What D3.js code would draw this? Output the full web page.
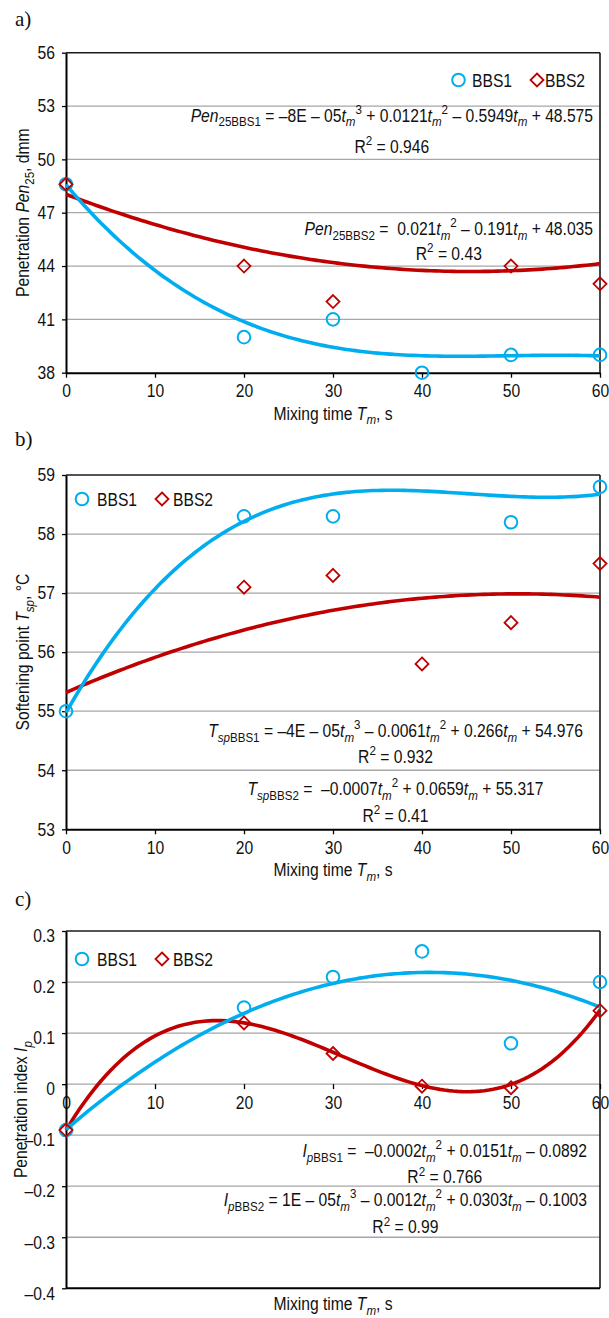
<!DOCTYPE html>
<html><head><meta charset="utf-8">
<script src="https://cdn.jsdelivr.net/npm/d3@7"></script>
<style>
html,body{margin:0;padding:0;background:#fff;}
svg{display:block;font-family:'Liberation Sans',Arial,sans-serif;}
text{white-space:pre;}
</style></head>
<body><svg id="chart" width="609" height="1318"></svg>
<script>
// ---------------- DATA ----------------
const mixTime = [0, 20, 30, 40, 50, 60];
const xTicks = [0, 10, 20, 30, 40, 50, 60];
const seriesNames = ["BBS1", "BBS2"];

// a) Penetration Pen25, dmm
const penBBS1 = [48.6, 40.0, 41.0, 38.0, 39.0, 39.0];
const penBBS2 = [48.6, 44.0, 42.0, null, 44.0, 43.0];
const penTicks = [38, 41, 44, 47, 50, 53, 56];
// trendline coefficients [c0, c1, c2, c3]
const penTrendBBS1 = [48.575, -0.5949, 0.0121, -8.1e-5];
const penTrendBBS2 = [48.035, -0.191, 0.0021, 0];

// b) Softening point Tsp, °C
const spBBS1 = [55.0, 58.3, 58.3, null, 58.2, 58.8];
const spBBS2 = [null, 57.1, 57.3, 55.8, 56.5, 57.5];
const spTicks = [53, 54, 55, 56, 57, 58, 59];
const spTrendBBS1 = [54.976, 0.266, -0.0061, 4.49e-5];
const spTrendBBS2 = [55.317, 0.0659, -0.00065, 0];

// c) Penetration index Ip
const ipBBS1 = [-0.09, 0.15, 0.21, 0.26, 0.08, 0.20];
const ipBBS2 = [-0.09, 0.12, 0.06, -0.004, -0.007, 0.144];
const ipTicks = [-0.4, -0.3, -0.2, -0.1, 0, 0.1, 0.2, 0.3];
const ipTrendBBS1 = [-0.0892, 0.0151, -0.000185, 0];
const ipTrendBBS2 = [-0.09, 0.02889, -0.001171, 1.258e-5];

// equation labels (as printed)
const eqPen1 = [["Pen","i"],["25BBS1","sub"],[" = –8E – 05"],["t","i"],["m","isub"],["3","sup"],[" + 0.0121"],["t","i"],["m","isub"],["2","sup"],[" – 0.5949"],["t","i"],["m","isub"],[" + 48.575"]];
const r2Pen1 = "0.946";
const eqPen2 = [["Pen","i"],["25BBS2","sub"],[" =  0.021"],["t","i"],["m","isub"],["2","sup"],[" – 0.191"],["t","i"],["m","isub"],[" + 48.035"]];
const r2Pen2 = "0.43";
const eqSp1 = [["T","i"],["sp","isub"],["BBS1","sub"],[" = –4E – 05"],["t","i"],["m","isub"],["3","sup"],[" – 0.0061"],["t","i"],["m","isub"],["2","sup"],[" + 0.266"],["t","i"],["m","isub"],[" + 54.976"]];
const r2Sp1 = "0.932";
const eqSp2 = [["T","i"],["sp","isub"],["BBS2","sub"],[" =  –0.0007"],["t","i"],["m","isub"],["2","sup"],[" + 0.0659"],["t","i"],["m","isub"],[" + 55.317"]];
const r2Sp2 = "0.41";
const eqIp1 = [["I","i"],["p","isub"],["BBS1","sub"],[" =  –0.0002"],["t","i"],["m","isub"],["2","sup"],[" + 0.0151"],["t","i"],["m","isub"],[" – 0.0892"]];
const r2Ip1 = "0.766";
const eqIp2 = [["I","i"],["p","isub"],["BBS2","sub"],[" = 1E – 05"],["t","i"],["m","isub"],["3","sup"],[" – 0.0012"],["t","i"],["m","isub"],["2","sup"],[" + 0.0303"],["t","i"],["m","isub"],[" – 0.1003"]];
const r2Ip2 = "0.99";

// ---------------- STYLE ----------------
const BLUE = "#00AEEF", RED = "#C00000", GRID = "#A6A6A6";
const FS = 18, SX = 0.87;
const svg = d3.select("#chart");
const x = d3.scaleLinear().domain([0, 60]).range([66, 600]);

function rich(parent, px, py, parts, opt = {}) {
  const size = opt.size || FS;
  const tr = `translate(${px},${py})` + (opt.rotate ? ` rotate(${opt.rotate})` : "") + ` scale(${SX},1)`;
  const t = parent.append("text").attr("transform", tr)
    .attr("text-anchor", opt.anchor || "start").style("font-size", size + "px").attr("fill", "#111");
  let shift = 0;
  parts.forEach(p => {
    const s = p[0], st = p[1] || "";
    const ts = t.append("tspan").text(s);
    const isSub = st.indexOf("sub") >= 0, isSup = st === "sup";
    const target = isSub ? 0.27 * size : (isSup ? -0.42 * size : 0);
    if (target !== shift) { ts.attr("dy", target - shift); shift = target; }
    if (isSub || isSup) ts.style("font-size", (size * 0.74) + "px");
    if (st === "i" || st === "isub") ts.style("font-style", "italic");
  });
  return t;
}
function width(t) { return t.node().getComputedTextLength() * SX; }

function poly(c, t) { return c[0] + c[1] * t + c[2] * t * t + c[3] * t * t * t; }

function diamond(cx, cy, r) {
  return `M${cx},${cy - r}L${cx + r},${cy}L${cx},${cy + r}L${cx - r},${cy}Z`;
}

function panel(cfg) {
  const g = svg.append("g");
  const y = d3.scaleLinear().domain(cfg.domain).range(cfg.range);
  const [x0, x1] = x.range();
  const yTop = y(cfg.domain[1]), yBot = y(cfg.domain[0]);

  // gridlines
  g.append("g").selectAll("line").data(cfg.ticks.filter(d => d !== cfg.domain[0] && d !== cfg.domain[1]))
    .join("line").attr("x1", x0).attr("x2", x1).attr("y1", d => y(d)).attr("y2", d => y(d))
    .attr("stroke", GRID).attr("stroke-width", 1.3);

  // frame top & right
  g.append("line").attr("x1", x0).attr("x2", x1).attr("y1", yTop).attr("y2", yTop).attr("stroke", "#1a1a1a").attr("stroke-width", 1.6);
  g.append("line").attr("x1", x1).attr("x2", x1).attr("y1", yTop).attr("y2", yBot).attr("stroke", "#1a1a1a").attr("stroke-width", 1.6);

  // bottom line (panel c: bottom frame separate from x axis)
  if (cfg.xAxisAt !== cfg.domain[0]) {
    g.append("line").attr("x1", x0).attr("x2", x1).attr("y1", yBot).attr("y2", yBot).attr("stroke", "#000").attr("stroke-width", 2);
  }

  // x axis
  const xa = g.append("g").attr("transform", `translate(0,${y(cfg.xAxisAt)})`)
    .call(d3.axisBottom(x).tickValues(xTicks).tickSize(5).tickSizeOuter(0).tickPadding(7).tickFormat(d3.format("d")));
  xa.select(".domain").attr("stroke", cfg.xAxisAt !== cfg.domain[0] ? "none" : "#000").attr("stroke-width", 2);
  xa.selectAll(".tick line").attr("stroke", "#000").attr("stroke-width", 1.3);
  xa.selectAll(".tick text").attr("transform", `scale(${SX},1)`).style("font-size", FS + "px")
    .style("font-family", "'Liberation Sans',Arial,sans-serif").attr("fill", "#111");

  // y axis
  const ya = g.append("g").attr("transform", `translate(${x0},0)`)
    .call(d3.axisLeft(y).tickValues(cfg.ticks).tickSize(4).tickSizeOuter(0).tickPadding(6).tickFormat(cfg.fmt));
  ya.select(".domain").attr("stroke", "#000").attr("stroke-width", 2);
  ya.selectAll(".tick line").attr("stroke", "#000").attr("stroke-width", 1.3);
  ya.selectAll(".tick text").attr("x", -11 / SX).attr("y", cfg.labelShift || 0)
    .attr("transform", `scale(${SX},1)`).style("font-size", FS + "px")
    .style("font-family", "'Liberation Sans',Arial,sans-serif").attr("fill", "#111");

  // trend lines
  const samples = d3.range(0, 60.001, 0.5);
  const line = d3.line().x(t => x(t));
  [[cfg.trend2, RED], [cfg.trend1, BLUE]].forEach(([c, col]) => {
    g.append("path").attr("d", line.y(t => y(poly(c, t)))(samples))
      .attr("fill", "none").attr("stroke", col).attr("stroke-width", 3.6);
  });

  // markers
  const pts1 = mixTime.map((t, i) => [t, cfg.s1[i]]).filter(d => d[1] !== null);
  const pts2 = mixTime.map((t, i) => [t, cfg.s2[i]]).filter(d => d[1] !== null);
  g.append("g").selectAll("circle").data(pts1).join("circle")
    .attr("cx", d => x(d[0])).attr("cy", d => y(d[1])).attr("r", 6.3)
    .attr("fill", "none").attr("stroke", BLUE).attr("stroke-width", 2);
  g.append("g").selectAll("path").data(pts2).join("path")
    .attr("d", d => diamond(x(d[0]), y(d[1]), 6.5))
    .attr("fill", "none").attr("stroke", RED).attr("stroke-width", 1.8);

  // legend
  const L = cfg.legend;
  g.append("circle").attr("cx", L.c1).attr("cy", L.y).attr("r", 6.3).attr("fill", "none").attr("stroke", BLUE).attr("stroke-width", 2);
  rich(g, L.t1, L.y + 6.5, [[seriesNames[0]]]);
  g.append("path").attr("d", diamond(L.c2, L.y, 6.5)).attr("fill", "none").attr("stroke", RED).attr("stroke-width", 1.8);
  rich(g, L.t2, L.y + 6.5, [[seriesNames[1]]]);

  // equations
  cfg.eqs.forEach(e => {
    let cx;
    if (e.anchor === "end") {
      const t = rich(g, e.x, e.y, e.parts, { anchor: "end" });
      cx = e.x - width(t) / 2;
    } else {
      rich(g, e.x, e.y, e.parts, { anchor: "middle" });
      cx = e.x;
    }
    rich(g, cx, e.ry, [["R"], ["2", "sup"], [" = " + e.r2]], { anchor: "middle" });
  });

  // axis titles
  rich(g, cfg.ytitle.x, (yTop + yBot) / 2, cfg.ytitle.parts, { anchor: "middle", rotate: -90 });
  rich(g, (x0 + x1) / 2, cfg.xtitleY, [["Mixing time "], ["T", "i"], ["m", "isub"], [", s"]], { anchor: "middle" });

  // panel letter
  g.append("text").attr("x", 15).attr("y", cfg.letterY).text(cfg.letter)
    .style("font-family", "'Liberation Serif','Times New Roman',serif").style("font-size", "21px").attr("fill", "#111");
}

const fmtIp = d => d === 0 ? "0" : (d < 0 ? "–" : "") + Math.abs(d).toFixed(1);

panel({
  letter: "a)", letterY: 26,
  domain: [38, 56], range: [372.7, 52.7], ticks: penTicks, fmt: d3.format("d"), xAxisAt: 38,
  s1: penBBS1, s2: penBBS2, trend1: penTrendBBS1, trend2: penTrendBBS2,
  legend: { y: 80, c1: 458.5, t1: 472, c2: 537, t2: 545 },
  eqs: [
    { anchor: "end", x: 593, y: 121.5, parts: eqPen1, r2: r2Pen1, ry: 152.7 },
    { anchor: "end", x: 593, y: 235, parts: eqPen2, r2: r2Pen2, ry: 260 }
  ],
  ytitle: { x: 29, parts: [["Penetration "], ["Pen", "i"], ["25", "sub"], [", dmm"]] },
  xtitleY: 419.5
});

panel({
  letter: "b)", letterY: 446,
  domain: [53, 59], range: [829.3, 475], ticks: spTicks, fmt: d3.format("d"), xAxisAt: 53,
  s1: spBBS1, s2: spBBS2, trend1: spTrendBBS1, trend2: spTrendBBS2,
  legend: { y: 499, c1: 82, t1: 97, c2: 162, t2: 173 },
  eqs: [
    { anchor: "middle", x: 395.5, y: 736.7, parts: eqSp1, r2: r2Sp1, ry: 762.7 },
    { anchor: "middle", x: 395.5, y: 795, parts: eqSp2, r2: r2Sp2, ry: 821.7 }
  ],
  ytitle: { x: 29, parts: [["Softening point "], ["T", "i"], ["sp", "isub"], [", °C"]] },
  xtitleY: 876
});

panel({
  letter: "c)", letterY: 906,
  domain: [-0.4, 0.3], range: [1288.3, 931], ticks: ipTicks, fmt: fmtIp, xAxisAt: 0, labelShift: 5,
  s1: ipBBS1, s2: ipBBS2, trend1: ipTrendBBS1, trend2: ipTrendBBS2,
  legend: { y: 959, c1: 82, t1: 97, c2: 162, t2: 173 },
  eqs: [
    { anchor: "end", x: 587, y: 1156.7, parts: eqIp1, r2: r2Ip1, ry: 1183.3 },
    { anchor: "end", x: 587, y: 1206, parts: eqIp2, r2: r2Ip2, ry: 1233.3 }
  ],
  ytitle: { x: 27, parts: [["Penetration index "], ["I", "i"], ["p", "isub"]] },
  xtitleY: 1310
});
</script></body></html>
